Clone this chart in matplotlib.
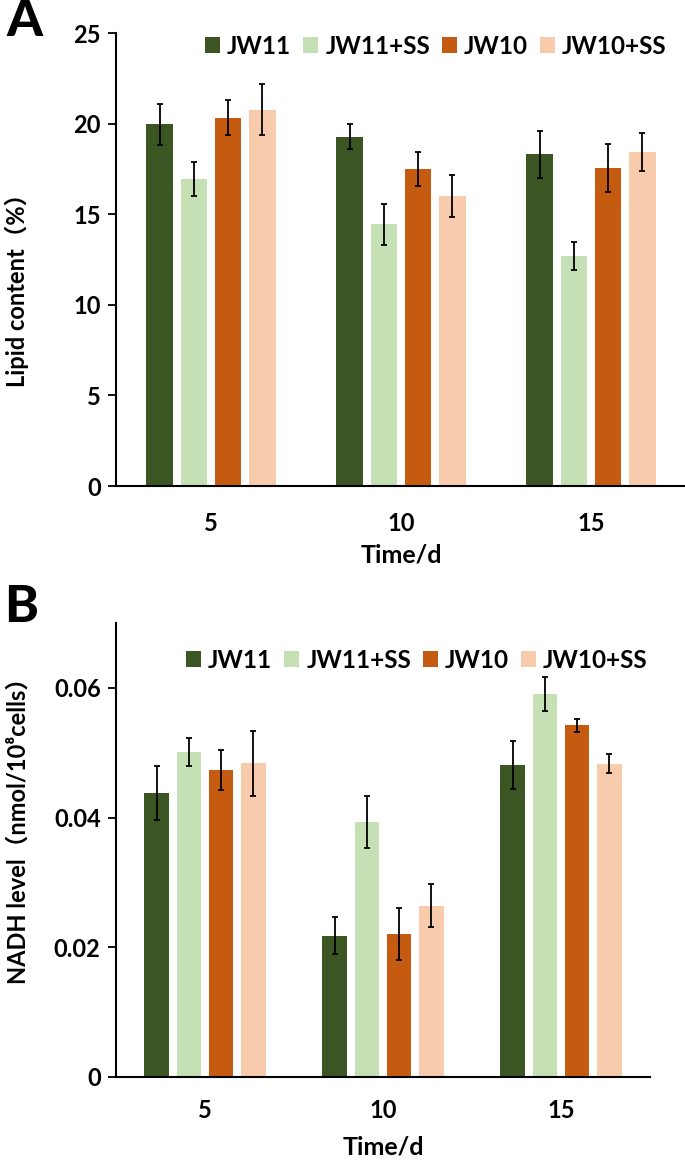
import numpy as np
import matplotlib
matplotlib.use("Agg")
import matplotlib.pyplot as plt

plt.rcParams['font.family'] = ['Lato', 'Noto Sans CJK SC', 'DejaVu Sans']
plt.rcParams['font.weight'] = 'bold'

days = ['5', '10', '15']
groups = ['JW11', 'JW11+SS', 'JW10', 'JW10+SS']
colors = ['#3B5523', '#C5E0B4', '#C55A11', '#F8CBAD']

# panel A: lipid content (%)
lipid = [
    [19.96, 19.28, 18.30],   # JW11
    [16.93, 14.44, 12.69],   # JW11+SS
    [20.33, 17.48, 17.55],   # JW10
    [20.77, 16.00, 18.42],   # JW10+SS
]
lipid_err = [
    [1.13, 0.70, 1.28],
    [0.94, 1.12, 0.75],
    [0.97, 0.95, 1.33],
    [1.42, 1.14, 1.06],
]

# panel B: NADH level
nadh = [
    [0.0438, 0.0218, 0.0481],
    [0.0501, 0.0393, 0.0591],
    [0.0473, 0.0220, 0.0542],
    [0.0484, 0.0264, 0.0483],
]
nadh_err = [
    [0.0041, 0.0029, 0.0037],
    [0.0021, 0.0040, 0.0026],
    [0.0031, 0.0040, 0.0010],
    [0.0050, 0.0033, 0.0015],
]

fig = plt.figure(figsize=(6.85, 11.64), dpi=100)
axA = fig.add_axes([116 / 685, 1 - 486 / 1164, 570 / 685, 453 / 1164])
axB = fig.add_axes([116 / 685, 1 - 1077 / 1164, 534 / 685, 454 / 1164])


def draw(ax, vals, errs, ylim, yticks, yticklabels, ylabel, ylab_xy, xlab_y, xpad, leg_xy):
    x = np.arange(len(days))
    step = 0.18
    for i, g in enumerate(groups):
        ax.bar(x + (i - 1.5) * step, vals[i], width=0.14, color=colors[i],
               label=g, linewidth=0)
        ax.errorbar(x + (i - 1.5) * step, vals[i], yerr=errs[i], fmt='none',
                    ecolor='black', elinewidth=1.3, capsize=2, capthick=1.3)
    ax.set_xlim(-0.5, 2.5)
    ax.set_ylim(*ylim)
    ax.set_xticks(x)
    ax.set_xticklabels(days)
    ax.set_yticks(yticks)
    ax.set_yticklabels(yticklabels)
    for s in ['top', 'right']:
        ax.spines[s].set_visible(False)
    for s in ['left', 'bottom']:
        ax.spines[s].set_linewidth(1.5)
    ax.tick_params(axis='x', length=0, pad=xpad, labelsize=17)
    ax.tick_params(axis='y', length=6, width=1.3, pad=5, labelsize=17)
    for lab in ax.get_xticklabels() + ax.get_yticklabels():
        lab.set_fontweight('bold')
    ax.set_ylabel(ylabel, fontsize=17, fontweight='bold')
    ax.yaxis.set_label_coords(*ylab_xy)
    ax.set_xlabel('Time/d', fontsize=18, fontweight='bold')
    ax.xaxis.set_label_coords(0.5, xlab_y)
    fig.legend(*ax.get_legend_handles_labels(), loc='center', bbox_to_anchor=leg_xy,
               ncol=4, frameon=False, handlelength=0.6, handleheight=0.6,
               handletextpad=0.3, columnspacing=0.5, prop={'weight': 'bold', 'size': 17.5})


draw(axA, lipid, lipid_err, (0, 25), [0, 5, 10, 15, 20, 25],
     ['0', '5', '10', '15', '20', '25'], 'Lipid content（%）',
     (-0.153, 0.444), -0.128, 19, (436 / 685, 1 - 46 / 1164))
draw(axB, nadh, nadh_err, (0, 0.07), [0, 0.02, 0.04, 0.06],
     ['0', '0.02', '0.04', '0.06'], 'NADH level（nmol/10⁸cells）',
     (-0.161, 0.555), -0.128, 16, (417 / 685, 1 - 660 / 1164))

fig.text(6 / 685, 1 - 22 / 1164, 'A', fontsize=37, fontweight='black', va='center')
fig.text(4 / 685, 1 - 607 / 1164, 'B', fontsize=37, fontweight='black', va='center')

fig.savefig('out.png', dpi=100)
